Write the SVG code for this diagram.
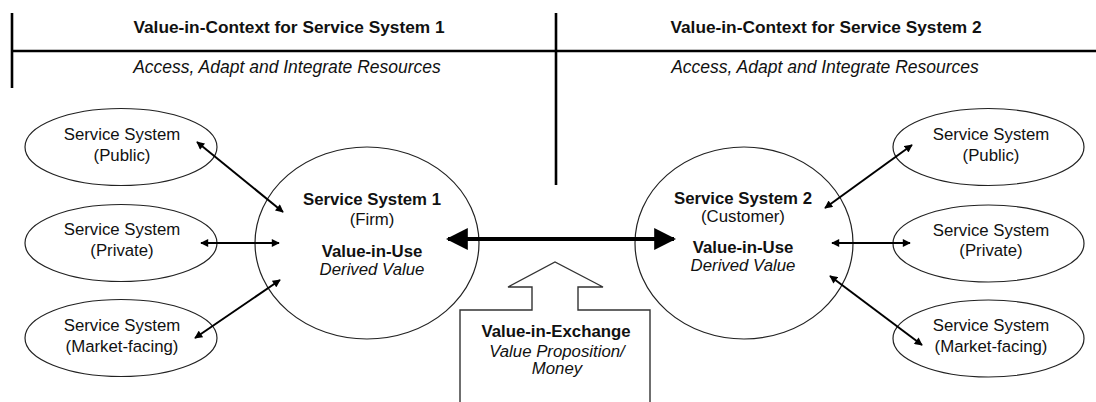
<svg xmlns="http://www.w3.org/2000/svg" width="1096" height="402" viewBox="0 0 1096 402">
<style>
text{font-family:"Liberation Sans",Arial,sans-serif;fill:#111;text-anchor:middle}
.t{font-size:17.3px;font-weight:bold}
.s{font-size:17.5px;font-style:italic}
.n{font-size:16.8px}
.b{font-size:16.8px;font-weight:bold}
.i{font-size:16.8px;font-style:italic}
.e{fill:#fff;stroke:#222;stroke-width:1.2}
.rule{stroke:#000;stroke-width:2.6;fill:none}
.c{stroke:#000;stroke-width:2;fill:none;marker-start:url(#ah);marker-end:url(#ah)}
</style>
<defs>
<marker id="ah" viewBox="0 0 10 10" refX="9" refY="5" markerWidth="4.5" markerHeight="4" orient="auto-start-reverse" markerUnits="strokeWidth"><path d="M0,0 L10,5 L0,10 z" fill="#000"/></marker>
<marker id="bh" viewBox="0 0 10 10" refX="9" refY="5" markerWidth="5.5" markerHeight="5.5" orient="auto-start-reverse" markerUnits="strokeWidth"><path d="M0,0 L10,5 L0,10 z" fill="#000"/></marker>
</defs>
<g id="header">
<line class="rule" x1="12" y1="13" x2="12" y2="88"/>
<line class="rule" x1="12" y1="51" x2="1096" y2="51"/>
<line class="rule" x1="556" y1="13" x2="556" y2="185"/>
<text class="t" x="289" y="33">Value-in-Context for Service System 1</text>
<text class="s" x="287" y="73">Access, Adapt and Integrate Resources</text>
<text class="t" x="826" y="33">Value-in-Context for Service System 2</text>
<text class="s" x="825" y="73">Access, Adapt and Integrate Resources</text>
</g>
<g id="ss1-public"><ellipse class="e" cx="121" cy="147" rx="96" ry="38.5"/><text class="n" x="122" y="140">Service System</text><text class="n" x="122" y="161">(Public)</text></g>
<g id="ss1-private"><ellipse class="e" cx="121" cy="243" rx="96" ry="38.5"/><text class="n" x="122" y="235">Service System</text><text class="n" x="122" y="256">(Private)</text></g>
<g id="ss1-market"><ellipse class="e" cx="121" cy="338" rx="96" ry="38.5"/><text class="n" x="122" y="331">Service System</text><text class="n" x="122" y="352">(Market-facing)</text></g>
<g id="ss1"><ellipse cx="367" cy="243" rx="112" ry="96" fill="none" stroke="#222" stroke-width="1.2"/><text class="b" x="372" y="205">Service System 1</text><text class="n" x="372" y="225">(Firm)</text><text class="b" x="372" y="257">Value-in-Use</text><text class="i" x="372" y="275">Derived Value</text></g>
<g id="ss2"><ellipse cx="744" cy="243" rx="109" ry="96" fill="none" stroke="#222" stroke-width="1.2"/><text class="b" x="743" y="204">Service System 2</text><text class="n" x="743" y="222">(Customer)</text><text class="b" x="743" y="253">Value-in-Use</text><text class="i" x="743" y="271">Derived Value</text></g>
<g id="ss2-public"><ellipse class="e" cx="988.5" cy="147" rx="95.5" ry="38.5"/><text class="n" x="991" y="140">Service System</text><text class="n" x="991" y="161">(Public)</text></g>
<g id="ss2-private"><ellipse class="e" cx="988.5" cy="243.5" rx="95.5" ry="38.5"/><text class="n" x="991" y="236">Service System</text><text class="n" x="991" y="256">(Private)</text></g>
<g id="ss2-market"><ellipse class="e" cx="988.5" cy="338.5" rx="95.5" ry="38.5"/><text class="n" x="991" y="331">Service System</text><text class="n" x="991" y="352">(Market-facing)</text></g>
<g id="exchange">
<path d="M460,402 L460,310 L532,310 L532,287 L508,287 L555,262 L603,287 L578,287 L578,310 L650,310 L650,402" fill="#fff" stroke="#333" stroke-width="1.4"/>
<text class="b" x="556" y="337">Value-in-Exchange</text>
<text class="i" x="557" y="357">Value Proposition/</text>
<text class="i" x="557" y="374">Money</text>
</g>
<g id="connectors">
<line class="c" x1="197" y1="142" x2="283" y2="212"/>
<line class="c" x1="201" y1="243" x2="279" y2="243"/>
<line class="c" x1="195" y1="338" x2="280" y2="280"/>
<line class="c" x1="825" y1="208" x2="912" y2="145"/>
<line class="c" x1="832" y1="243" x2="910" y2="243"/>
<line class="c" x1="830" y1="276" x2="922" y2="345"/>
<line x1="448" y1="239" x2="674" y2="239" stroke="#000" stroke-width="4" marker-start="url(#bh)" marker-end="url(#bh)"/>
</g>
</svg>
